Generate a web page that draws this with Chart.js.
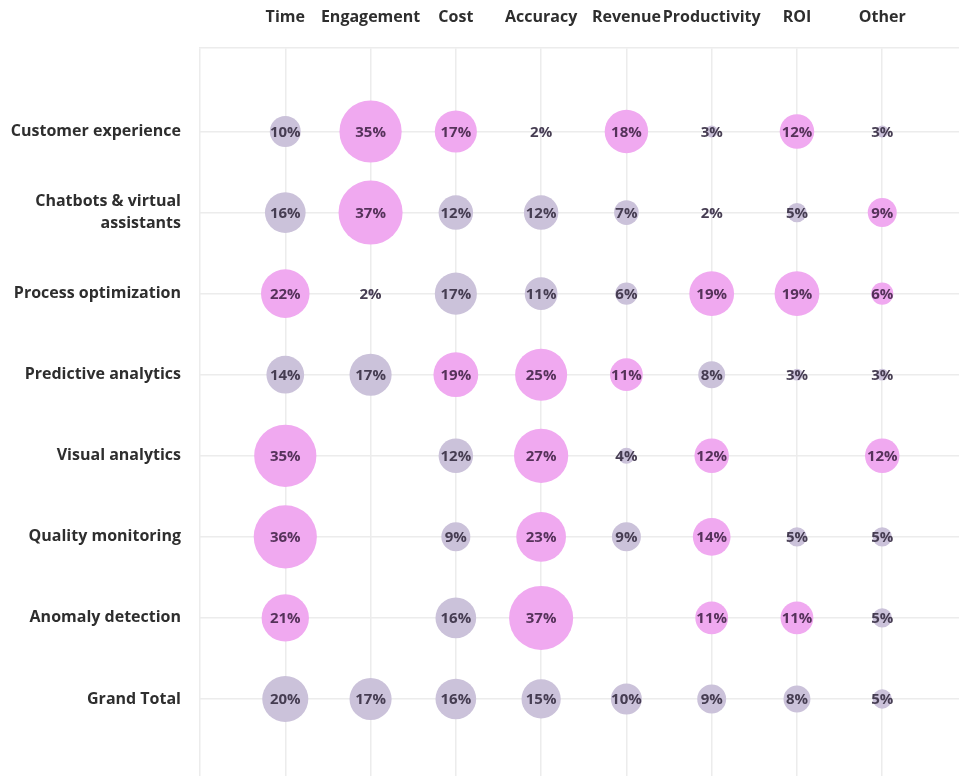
<!DOCTYPE html>
<html>
<head>
<meta charset="utf-8">
<script src="https://cdn.jsdelivr.net/npm/chart.js@4.4.1/dist/chart.umd.min.js"></script>
<style>
  html, body { margin: 0; padding: 0; background: #fff; }
  #wrap { width: 959px; height: 776px; position: relative; }
</style>
</head>
<body>
<div id="wrap"><canvas id="chart_bubble"></canvas></div>
<script>
var columns = ["Time", "Engagement", "Cost", "Accuracy", "Revenue", "Productivity", "ROI", "Other"]
var rows = ["Customer experience", ["Chatbots & virtual", "assistants"], "Process optimization",
	"Predictive analytics", "Visual analytics", "Quality monitoring", "Anomaly detection", "Grand Total"]

// percentages per row, in column order (null = no answer)
var customerExperience = [10, 35, 17, 2, 18, 3, 12, 3]
var chatbots = [16, 37, 12, 12, 7, 2, 5, 9]
var processOptimization = [22, 2, 17, 11, 6, 19, 19, 6]
var predictiveAnalytics = [14, 17, 19, 25, 11, 8, 3, 3]
var visualAnalytics = [35, null, 12, 27, 4, 12, null, 12]
var qualityMonitoring = [36, null, 9, 23, 9, 14, 5, 5]
var anomalyDetection = [21, null, 16, 37, null, 11, 11, 5]
var grandTotal = [20, 17, 16, 15, 10, 9, 8, 5]

// 1 = highlighted (pink) cell
var hlCustomerExperience = [0, 1, 1, 0, 1, 0, 1, 0]
var hlChatbots = [0, 1, 0, 0, 0, 0, 0, 1]
var hlProcessOptimization = [1, 0, 0, 0, 0, 1, 1, 1]
var hlPredictiveAnalytics = [0, 0, 1, 1, 1, 0, 0, 0]
var hlVisualAnalytics = [1, 0, 0, 1, 0, 1, 0, 1]
var hlQualityMonitoring = [1, 0, 0, 1, 0, 1, 0, 0]
var hlAnomalyDetection = [1, 0, 0, 1, 0, 1, 1, 0]
var hlGrandTotal = [0, 0, 0, 0, 0, 0, 0, 0]

var values = [customerExperience, chatbots, processOptimization, predictiveAnalytics,
	visualAnalytics, qualityMonitoring, anomalyDetection, grandTotal]
var highlights = [hlCustomerExperience, hlChatbots, hlProcessOptimization, hlPredictiveAnalytics,
	hlVisualAnalytics, hlQualityMonitoring, hlAnomalyDetection, hlGrandTotal]

var PINK = "#f0a9f0"
var GREY = "#cbc2da"
var GRID = "#ececec"

var radius = function(v){
	return 5.4 * Math.sqrt(Math.max(v - 1.8, 0))
}

var points = []
values.forEach(function(row, ri){
	row.forEach(function(v, ci){
		if (v === null) return
		points.push({ x: ci, y: ri, r: radius(v), v: v, hl: highlights[ri][ci] })
	})
})

var bubbleLabels = {
	id: "bubbleLabels",
	afterDatasetsDraw: function(chart){
		var ctx = chart.ctx
		var meta = chart.getDatasetMeta(0)
		ctx.save()
		ctx.font = "bold 15px 'Open Sans'"
		ctx.textAlign = "center"
		ctx.textBaseline = "middle"
		meta.data.forEach(function(el, i){
			var p = chart.data.datasets[0].data[i]
			ctx.fillStyle = p.hl ? "#55325a" : "#463d52"
			ctx.fillText(p.v + "%", el.x, el.y + 1)
		})
		ctx.restore()
	}
}

var ctx = document.getElementById("chart_bubble")
var myChart = new Chart(ctx, {
	type: "bubble",
	data: {
		datasets: [{
			data: points,
			backgroundColor: function(c){ return c.raw && c.raw.hl ? PINK : GREY },
			borderWidth: 0,
			hoverRadius: 0
		}]
	},
	options: {
		responsive: true,
		maintainAspectRatio: false,
		animation: false,
		layout: { padding: 0, autoPadding: false },
		plugins: {
			legend: { display: false },
			tooltip: { enabled: false }
		},
		scales: {
			x: {
				type: "linear",
				position: "top",
				min: -1,
				max: 7.9,
				afterFit: function(scale){
					scale.height = 48
					scale.paddingLeft = 0
					scale.paddingRight = 0
				},
				grid: { color: GRID, lineWidth: 1.5, drawTicks: false },
				border: { display: true, color: GRID, width: 1.5 },
				ticks: {
					stepSize: 1,
					includeBounds: false,
					padding: 21,
					color: "#2e2e2e",
					font: { family: "'Open Sans'", weight: "bold", size: 16 },
					maxRotation: 0,
					autoSkip: false,
					callback: function(v){ return columns[v] || "" }
				}
			},
			y: {
				type: "linear",
				reverse: true,
				min: -1.03,
				max: 7.95,
				afterFit: function(scale){
					scale.width = 200
					scale.paddingTop = 0
					scale.paddingBottom = 0
				},
				grid: {
					color: function(c){ return c.tick && c.tick.value < 0 ? "rgba(0,0,0,0)" : GRID },
					lineWidth: 1.5,
					drawTicks: false
				},
				border: { display: false },
				ticks: {
					stepSize: 1,
					includeBounds: false,
					padding: 19,
					color: "#2e2e2e",
					font: { family: "'Open Sans'", weight: "bold", size: 16, lineHeight: 1.4 },
					autoSkip: false,
					callback: function(v){ return rows[v] || "" }
				}
			}
		}
	},
	plugins: [bubbleLabels]
})
</script>
</body>
</html>
